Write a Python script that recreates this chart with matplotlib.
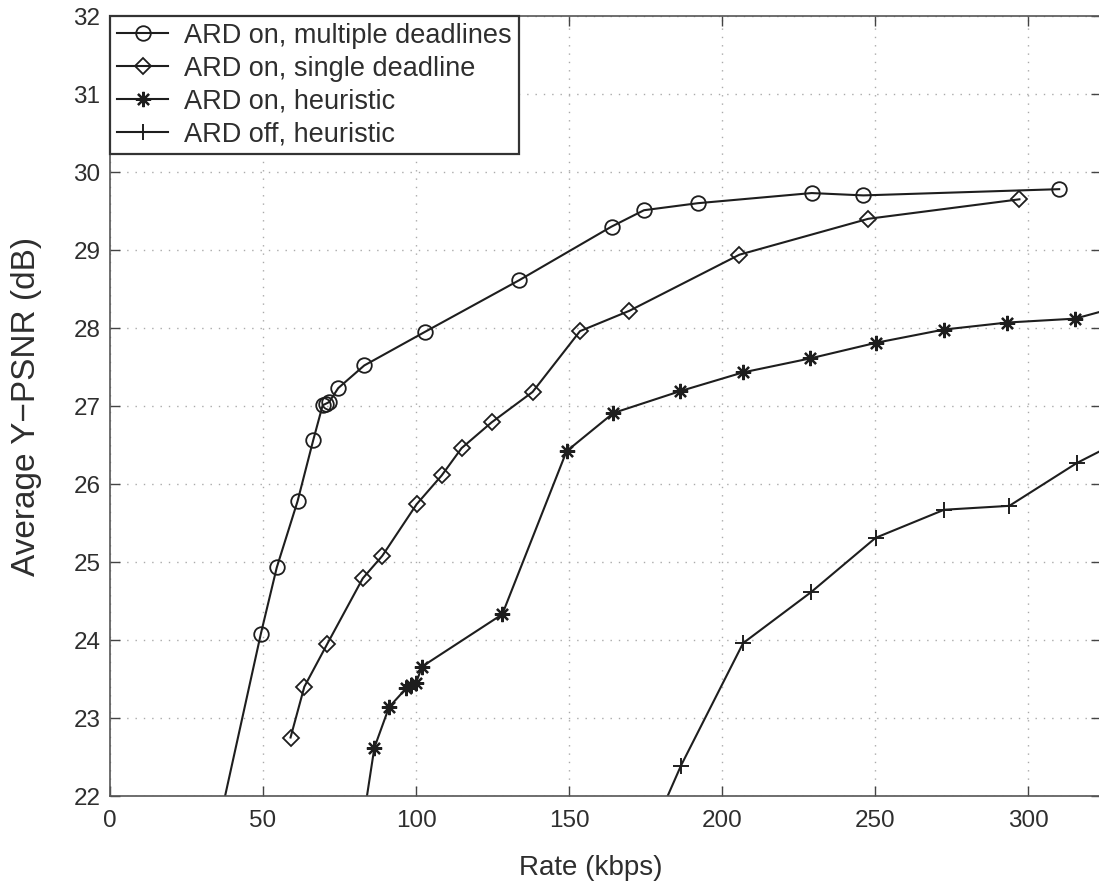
import numpy as np
import matplotlib
matplotlib.use("Agg")
import matplotlib.pyplot as plt

plt.rcParams['font.family'] = ['Liberation Sans', 'DejaVu Sans']

# ARD on, multiple deadlines (first point lies below the visible range)
rate_multi = [33.0, 49.3, 54.5, 61.3, 66.4, 69.5, 70.6, 71.6, 74.6, 83.1, 102.9,
              133.6, 163.9, 174.5, 192.1, 229.3, 246.2, 310.2]
psnr_multi = [21.18, 24.08, 24.93, 25.78, 26.56, 27.01, 27.03, 27.05, 27.23, 27.52, 27.95,
              28.61, 29.30, 29.51, 29.60, 29.73, 29.70, 29.78]

# ARD on, single deadline
rate_single = [59.0, 63.5, 71.0, 82.6, 89.0, 100.2, 108.4, 114.9, 124.7, 138.1,
               153.6, 169.7, 205.7, 247.8, 297.2]
psnr_single = [22.75, 23.40, 23.95, 24.79, 25.08, 25.74, 26.11, 26.46, 26.79, 27.18,
               27.96, 28.22, 28.94, 29.40, 29.65]

# ARD on, heuristic
rate_heur_on = [83.0, 86.4, 91.2, 96.8, 98.5, 100.0, 102.0, 128.2, 149.2, 164.5,
                186.3, 206.8, 228.8, 250.3, 272.5, 293.2, 315.4, 335.0]
psnr_heur_on = [21.75, 22.62, 23.14, 23.38, 23.42, 23.45, 23.66, 24.33, 26.42, 26.91,
                27.19, 27.43, 27.61, 27.81, 27.98, 28.07, 28.12, 28.33]

# ARD off, heuristic
rate_heur_off = [180.0, 186.6, 206.9, 229.0, 250.2, 272.6, 293.9, 316.0, 335.0]
psnr_heur_off = [21.80, 22.39, 23.96, 24.61, 25.31, 25.67, 25.72, 26.27, 26.65]

labels = ["ARD on, multiple deadlines", "ARD on, single deadline",
          "ARD on, heuristic", "ARD off, heuristic"]

ink = '#1e1e1e'
txt = '#2e2e2e'
fig = plt.figure(figsize=(10.99, 8.82), dpi=100)
ax = fig.add_axes([110/1099, 86/882, 991/1099, 780/882])

ax.plot(rate_multi, psnr_multi, color=ink, lw=1.5, marker='o', ms=10.5,
        mfc='none', mec=ink, mew=1.3, label=labels[0])
ax.plot(rate_single, psnr_single, color=ink, lw=1.5, marker='D', ms=8.5,
        mfc='none', mec=ink, mew=1.3, label=labels[1])
ax.plot(rate_heur_on, psnr_heur_on, color=ink, lw=1.5, marker=(8, 2, 0), ms=11,
        mec=ink, mew=1.6, label=labels[2])
ax.plot(rate_heur_off, psnr_heur_off, color=ink, lw=1.5, marker='+', ms=12,
        mec=ink, mew=1.4, label=labels[3])

ax.set_xlim(0, 991/3.06)
ax.set_ylim(22, 32)
ax.set_xticks([0, 50, 100, 150, 200, 250, 300])
ax.set_yticks(np.arange(22, 33, 1))
ax.tick_params(direction='in', length=7, width=1, top=True, right=True,
               labelsize=17.5, colors='#444444', labelcolor=txt)
ax.tick_params(axis='x', pad=10)
ax.tick_params(axis='y', pad=7)
ax.grid(True, color='#aaaaaa', linestyle=(0, (1, 5)), lw=1)
for s in ax.spines.values():
    s.set_color('#555555')
    s.set_linewidth(1.2)

ax.set_ylabel("Average Y\u2212PSNR (dB)", fontsize=24, color=txt)
ax.yaxis.set_label_coords(-0.0686, 0.5)
ax.set_xlabel("Rate (kbps)", fontsize=20, color=txt)
ax.xaxis.set_label_coords(0.485, -0.092)
ax.xaxis.label.set_va('center')

leg = ax.legend(loc='upper left', borderaxespad=0, fontsize=19.5, handlelength=1.9,
                handletextpad=0.6, labelspacing=0.25, fancybox=False,
                framealpha=1, edgecolor='#333333', borderpad=0.25)
leg.get_frame().set_linewidth(1.6)
for t in leg.get_texts():
    t.set_color(txt)

fig.savefig("out.png", dpi=100)
